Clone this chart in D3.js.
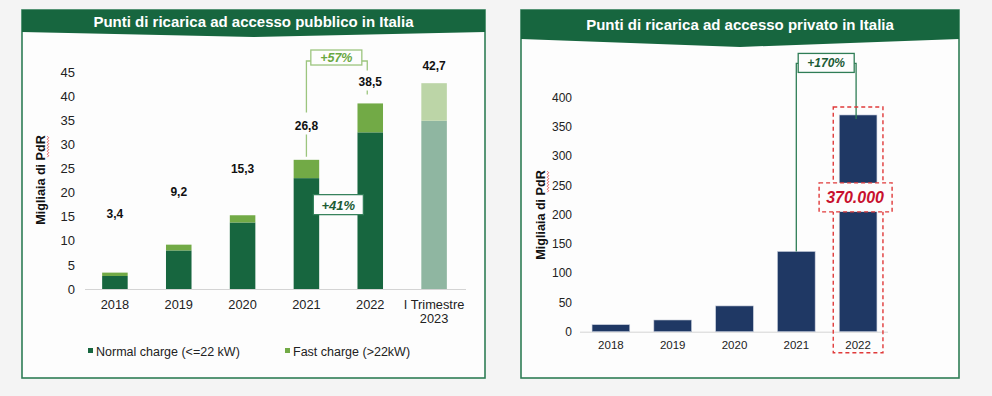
<!DOCTYPE html>
<html>
<head>
<meta charset="utf-8">
<script src="https://cdn.jsdelivr.net/npm/d3@7"></script>
<style>
  html, body { margin: 0; padding: 0; background: #f4f4f4; }
  svg { display: block; font-family: "Liberation Sans", Arial, sans-serif; }
</style>
</head>
<body>
<svg id="chart" width="992" height="396"></svg>
<script>
// dati - pubblico
const publicYears = ["2018", "2019", "2020", "2021", "2022", "I Trimestre\n2023"];
const normalCharge = [2.7, 8.0, 13.8, 23.0, 32.5, 34.9];
const fastCharge = [0.7, 1.2, 1.5, 3.8, 6.0, 7.8];
const publicTicks = [0, 5, 10, 15, 20, 25, 30, 35, 40, 45];
const publicLegend = ["Normal charge (<=22 kW)", "Fast charge (>22kW)"];
const publicGrowth = ["+57%", "+41%"]; // fast, normal 2021 -> 2022

// dati - privato (migliaia)
const privateYears = ["2018", "2019", "2020", "2021", "2022"];
const privateValues = [12, 20, 44, 137, 370];
const privateTicks = [0, 50, 100, 150, 200, 250, 300, 350, 400];
const privateGrowth = "+170%";

const it = d3.formatLocale({ decimal: ",", thousands: ".", grouping: [3], currency: ["€", ""] });
const fmt1 = it.format(".1f");
const fmtThousands = it.format(",");

const svg = d3.select("#chart");
const green = "#17663f";
const fastGreen = "#72aa46";
const navy = "#1f3864";

function panel(x0, x1, y0, y1, hLow, hMid, title, titleY) {
  const g = svg.append("g");
  g.append("rect").attr("x", x0).attr("y", y0).attr("width", x1 - x0).attr("height", y1 - y0)
    .attr("fill", "#fdfdfd").attr("stroke", "#2f7d56").attr("stroke-width", 1.6);
  const xm = (x0 + x1) / 2;
  g.append("path")
    .attr("d", `M${x0},${y0}H${x1}V${hLow}L${xm},${hMid}L${x0},${hLow}Z`)
    .attr("fill", green);
  g.append("text").attr("x", xm).attr("y", titleY).attr("text-anchor", "middle")
    .attr("fill", "#fff").attr("font-weight", "bold").attr("font-size", 15).text(title);
}

function yTitle(cx, cy) {
  const t = svg.append("text")
    .attr("transform", `translate(${cx},${cy}) rotate(-90)`)
    .attr("text-anchor", "middle").attr("dy", "0.35em")
    .attr("font-weight", "bold").attr("font-size", 12.6).attr("fill", "#111")
    .text("Migliaia di PdR");
  // sottolineatura ondulata del correttore
  const node = t.node();
  const len = node.getComputedTextLength();
  const sub = node.getSubStringLength(12, 3);
  const yTop = cy - len / 2 + 1, yBot = yTop + sub - 4;
  const pts = d3.range(yTop, yBot, 1.5).map((y, i) => [cx + 6.5 + (i % 2 ? 1.2 : -0.2), y]);
  svg.append("path").attr("d", d3.line()(pts)).attr("fill", "none")
    .attr("stroke", "#e23b3b").attr("stroke-width", 0.8);
}

// ---------- pannello sinistro ----------
panel(22, 485, 10, 378, 32, 37, "Punti di ricarica ad accesso pubblico in Italia", 27);

const xL = d3.scaleBand().domain(publicYears).range([83, 466]).paddingInner(0.6).paddingOuter(0.3);
const yL = d3.scaleLinear().domain([0, 45]).range([289, 72.1]);
// le etichette dei totali stanno su una scala compressa
const yLabel = d3.scaleLinear().domain([0, 45]).range([yL(13), yL(13 + 0.78 * 45)]);

const axL = svg.append("g").attr("transform", "translate(83,0)")
  .call(d3.axisLeft(yL).tickValues(publicTicks).tickSize(0).tickPadding(8));
axL.select(".domain").remove();
axL.selectAll("text").attr("font-size", 13).attr("fill", "#222").attr("font-family", "Liberation Sans, Arial");

const axLb = svg.append("g").attr("transform", "translate(0,289)")
  .call(d3.axisBottom(xL).tickSize(0).tickSizeOuter(0).tickPadding(11));
axLb.select(".domain").attr("stroke", "#d4d4d4").attr("d", "M85,0.5H466");
axLb.selectAll("text").attr("font-size", 12.8).attr("fill", "#222").attr("font-family", "Liberation Sans, Arial")
  .each(function (d) {
    const parts = d.split("\n");
    if (parts.length > 1) {
      const t = d3.select(this).text(null);
      parts.forEach((p, i) => t.append("tspan").attr("x", 0).attr("dy", i ? "1.05em" : "0.71em").text(p));
      t.attr("dy", null);
    }
  });

const pub = publicYears.map((y, i) => ({ year: y, normal: normalCharge[i], fast: fastCharge[i], total: normalCharge[i] + fastCharge[i], q: i === publicYears.length - 1 }));

svg.append("g").selectAll("rect").data(pub).join("rect")
  .attr("x", d => xL(d.year)).attr("width", xL.bandwidth())
  .attr("y", d => yL(d.normal)).attr("height", d => yL(0) - yL(d.normal))
  .attr("fill", d => d.q ? "#8fb6a1" : green);
svg.append("g").selectAll("rect").data(pub).join("rect")
  .attr("x", d => xL(d.year)).attr("width", xL.bandwidth())
  .attr("y", d => yL(d.total)).attr("height", d => yL(d.normal) - yL(d.total))
  .attr("fill", d => d.q ? "#bcd5a7" : fastGreen);

svg.append("g").selectAll("text").data(pub).join("text")
  .attr("x", d => xL(d.year) + xL.bandwidth() / 2).attr("y", d => yLabel(d.total) + 4)
  .attr("text-anchor", "middle").attr("font-weight", "bold").attr("font-size", 12).attr("fill", "#111")
  .text(d => fmt1(d.total));

// parentesi +57% (fast charge 2021 -> 2022)
const a = pub[3], b = pub[4];
const ax = xL(a.year) + xL.bandwidth() / 2, bx = xL(b.year) + xL.bandwidth() / 2 - 3;
const brY = yL(47.3);
const pathL = d3.path();
pathL.moveTo(ax, yLabel(a.total) - 13); pathL.lineTo(ax, brY); pathL.lineTo(bx, brY); pathL.lineTo(bx, yLabel(b.total) - 11);
pathL.moveTo(ax, yLabel(a.total) + 9); pathL.lineTo(ax, yL(a.total) - 3);
pathL.moveTo(bx, yLabel(b.total) + 9); pathL.lineTo(bx, yLabel(b.total) + 13);
svg.append("path").attr("d", pathL.toString()).attr("fill", "none").attr("stroke", "#9cc57e").attr("stroke-width", 1.3);
const gx57 = (ax + bx) / 2;
svg.append("rect").attr("x", gx57 - 26).attr("y", brY - 11).attr("width", 51).attr("height", 15)
  .attr("fill", "#fdfdfd").attr("stroke", "#9cc57e").attr("stroke-width", 1.3);
svg.append("text").attr("x", gx57 - 0.5).attr("y", brY + 1).attr("text-anchor", "middle")
  .attr("font-weight", "bold").attr("font-style", "italic").attr("font-size", 12.5).attr("fill", "#6aa842")
  .text(publicGrowth[0]);

// riquadro +41% (normal charge)
const gx41 = (xL(a.year) + xL(b.year) + xL.bandwidth()) / 2;
const y41 = yL(17.5);
svg.append("rect").attr("x", gx41 - 25).attr("y", y41 - 10).attr("width", 50).attr("height", 20)
  .attr("fill", "#fdfdfd").attr("stroke", "#2f7d56").attr("stroke-width", 1.2);
svg.append("text").attr("x", gx41).attr("y", y41 + 5).attr("text-anchor", "middle")
  .attr("font-weight", "bold").attr("font-style", "italic").attr("font-size", 13).attr("fill", "#1c5b35")
  .text(publicGrowth[1]);

// legenda
const legX = [88, 285];
const legColors = [green, fastGreen];
const leg = svg.append("g").selectAll("g").data(publicLegend).join("g")
  .attr("transform", (d, i) => `translate(${legX[i]},351)`);
leg.append("rect").attr("x", 0).attr("y", -3).attr("width", 5).attr("height", 5).attr("fill", (d, i) => legColors[i]);
leg.append("text").attr("x", 8).attr("y", 4.5).attr("font-size", 12.5).attr("fill", "#222").text(d => d);

yTitle(41, 180);

// ---------- pannello destro ----------
panel(521, 959, 10, 378, 39, 47, "Punti di ricarica ad accesso privato in Italia", 30);

const xR = d3.scaleBand().domain(privateYears).range([580, 889]).paddingInner(0.39).paddingOuter(0.195);
const yR = d3.scaleLinear().domain([0, 400]).range([331.7, 97.4]);

const axR = svg.append("g").attr("transform", "translate(580,0)")
  .call(d3.axisLeft(yR).tickValues(privateTicks).tickSize(0).tickPadding(8));
axR.select(".domain").remove();
axR.selectAll("text").attr("font-size", 12).attr("fill", "#222").attr("font-family", "Liberation Sans, Arial");

const axRb = svg.append("g").attr("transform", `translate(0,${yR(0)})`)
  .call(d3.axisBottom(xR).tickSize(0).tickSizeOuter(0).tickPadding(9));
axRb.select(".domain").attr("stroke", "#d4d4d4").attr("d", "M580,0.5H888");
axRb.selectAll("text").attr("font-size", 11.5).attr("fill", "#222").attr("font-family", "Liberation Sans, Arial");

const priv = privateYears.map((y, i) => ({ year: y, value: privateValues[i] }));
svg.append("g").selectAll("rect").data(priv).join("rect")
  .attr("x", d => xR(d.year)).attr("width", xR.bandwidth())
  .attr("y", d => yR(d.value)).attr("height", d => yR(0) - yR(d.value))
  .attr("fill", navy).attr("stroke", "#c9cfdc").attr("stroke-width", 0.6);

// parentesi +170%
const p1 = priv[3], p2 = priv[4];
const px1 = xR(p1.year) + xR.bandwidth() / 2, px2 = xR(p2.year) + xR.bandwidth() / 2 - 2;
const pBr = yR(458);
const pathR = d3.path();
pathR.moveTo(px1, yR(p1.value)); pathR.lineTo(px1, pBr); pathR.lineTo(px2, pBr); pathR.lineTo(px2, yR(p2.value) + 4);
svg.append("path").attr("d", pathR.toString()).attr("fill", "none").attr("stroke", "#2f7d56").attr("stroke-width", 1.3);

// riquadro rosso tratteggiato sul 2022
const bx2 = xR(p2.year);
svg.append("rect").attr("x", bx2 - 6).attr("y", yR(p2.value) - 8).attr("width", xR.bandwidth() + 12)
  .attr("height", yR(0) - yR(p2.value) + 29)
  .attr("fill", "none").attr("stroke", "#e03a3a").attr("stroke-width", 1.4).attr("stroke-dasharray", "4,3");

const gx170 = (px1 + px2) / 2;
svg.append("rect").attr("x", gx170 - 28).attr("y", pBr - 10).attr("width", 56).attr("height", 19)
  .attr("fill", "#fdfdfd").attr("stroke", "#2f7d56").attr("stroke-width", 1.3);
svg.append("text").attr("x", gx170).attr("y", pBr + 4).attr("text-anchor", "middle")
  .attr("font-weight", "bold").attr("font-style", "italic").attr("font-size", 12).attr("fill", "#1c5b35")
  .text(privateGrowth);

// etichetta 370.000
const lblY = yR(p2.value * 0.62);
const lblX = bx2 + xR.bandwidth() / 2 - 3;
svg.append("rect").attr("x", lblX - 36).attr("y", lblY - 14.5).attr("width", 73).attr("height", 29)
  .attr("fill", "#fdfdfd").attr("stroke", "#e03a3a").attr("stroke-width", 1.4).attr("stroke-dasharray", "4,3");
svg.append("text").attr("x", lblX).attr("y", lblY + 6).attr("text-anchor", "middle")
  .attr("font-weight", "bold").attr("font-style", "italic").attr("font-size", 16).attr("fill", "#c8102e")
  .text(fmtThousands(p2.value * 1000));

yTitle(541, 215);
</script>
</body>
</html>
